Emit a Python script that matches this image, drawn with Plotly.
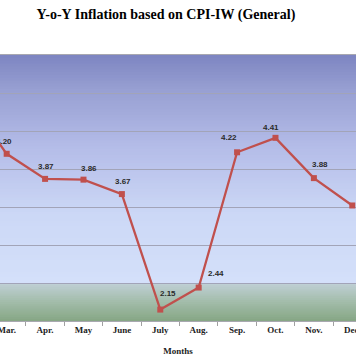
import plotly.graph_objects as go

# ---- data ----
months = ["Feb.", "Mar.", "Apr.", "May", "June", "July", "Aug.", "Sep.", "Oct.", "Nov.", "Dec."]
inflation = [4.90, 4.20, 3.87, 3.86, 3.67, 2.15, 2.44, 4.22, 4.41, 3.88, 3.52]
label_text = [None, "4.20", "3.87", "3.86", "3.67", "2.15", "2.44", "4.22", "4.41", "3.88", None]

# ---- styles ----
label_dx = [0, -3, 1, 6, 1, 8, 17, -8, -4, 6, 0]
label_dy = [0, 12, 12, 11, 13, 16, 14, 15, 10, 14, 0]
RED = "#c0504d"
Y0, Y1 = 2.0, 5.5

def lerp(c1, c2, t):
    a = [int(c1[i:i + 2], 16) for i in (1, 3, 5)]
    b = [int(c2[i:i + 2], 16) for i in (1, 3, 5)]
    return "rgb(%d,%d,%d)" % tuple(round(a[k] + (b[k] - a[k]) * t) for k in range(3))

def grad(stops, lo, hi, n, top):
    out = []
    for i in range(n):
        f = (i + 0.5) / n
        for j in range(len(stops) - 1):
            if stops[j][0] <= f <= stops[j + 1][0]:
                t = (f - stops[j][0]) / (stops[j + 1][0] - stops[j][0])
                col = lerp(stops[j][1], stops[j + 1][1], t)
                break
        out.append(dict(type="rect", xref="paper", yref="y", x0=0, x1=1,
                        y0=lo + (hi - lo) * i / n, y1=top,
                        fillcolor=col, line=dict(width=0), layer="below"))
    return out

shapes = []
shapes += grad([(0, "#86a684"), (0.5, "#a2bcaa"), (1, "#c0d0d6")], 2.0, 2.5, 20, Y1)
shapes += grad([(0, "#d4e0fa"), (0.3, "#ccd8f6"), (0.6, "#b4bce8"), (0.85, "#979fd2"), (1, "#7d85c1")], 2.5, 5.5, 80, Y1)

fig = go.Figure()
fig.add_trace(go.Scatter(
    x=months, y=inflation, mode="lines+markers",
    line=dict(color=RED, width=2.3),
    marker=dict(symbol="square", size=6, color=RED),
    cliponaxis=True, showlegend=False, hoverinfo="skip"))

annotations = []
for m, v, t, dx, dy in zip(months, inflation, label_text, label_dx, label_dy):
    if t is None:
        continue
    annotations.append(dict(x=m, y=v, text="<b>%s</b>" % t, showarrow=False,
                            xshift=dx, yshift=dy,
                            font=dict(family="Liberation Sans, Arial", size=8, color="#2a2a2a")))

fig.update_layout(
    width=356, height=364,
    margin=dict(l=0, r=0, t=55, b=43, autoexpand=False),
    paper_bgcolor="white", plot_bgcolor="white",
    title=dict(text="<b>Y-o-Y Inflation based on CPI-IW (General)</b>",
               x=0.466, xanchor="center", y=0.962, yanchor="middle",
               font=dict(family="Liberation Serif, Times New Roman", size=14, color="black")),
    shapes=shapes, annotations=annotations,
    xaxis=dict(range=[0.826, 10.097], tickson="boundaries", ticks="outside", ticklen=4,
               tickcolor="#a0a0a0", showgrid=False, showline=True, linecolor="#a8a8b0",
               mirror=True, linewidth=1, automargin=False,
               tickfont=dict(family="Liberation Serif, Times New Roman", size=9, color="#222",
                             weight="bold"),
               title=dict(text="<b>Months</b>", standoff=13,
                          font=dict(family="Liberation Serif, Times New Roman", size=9, color="#222"))),
    yaxis=dict(range=[Y0, Y1], dtick=0.5, showticklabels=False, showgrid=True,
               gridcolor="#a2a4b8", gridwidth=1, zeroline=False, showline=False, ticks="",
               automargin=False),
)
fig.write_html("out.html", config={"displayModeBar": False},
               post_script="document.body.style.margin='0';document.body.style.overflow='hidden';")
